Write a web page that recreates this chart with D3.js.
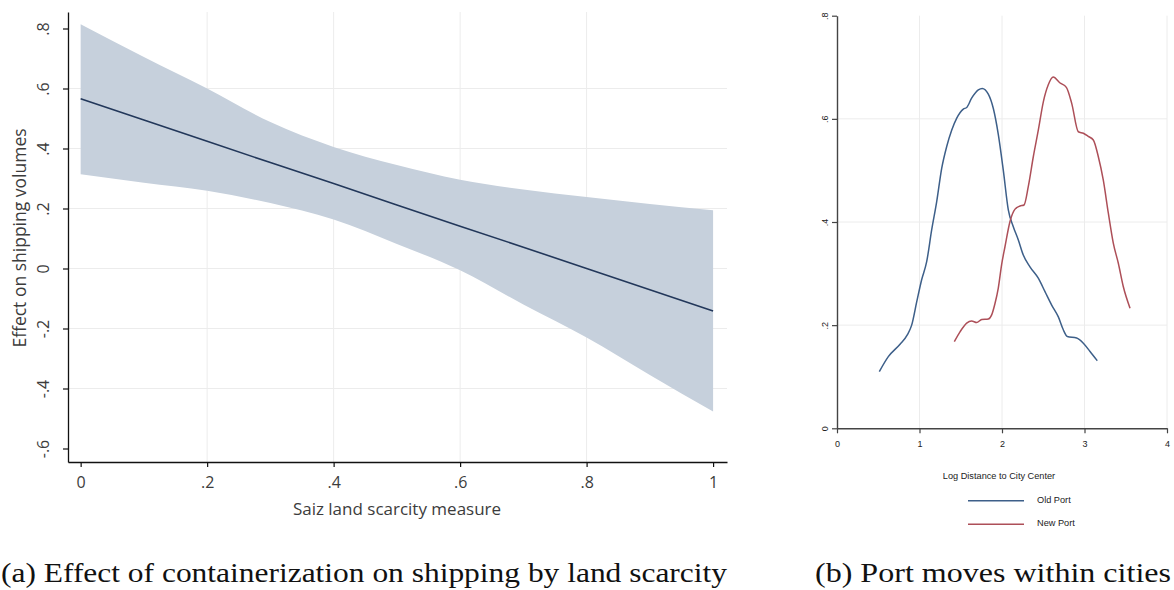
<!DOCTYPE html>
<html>
<head>
<meta charset="utf-8">
<script src="https://cdn.jsdelivr.net/npm/d3@7"></script>
<style>
  body { margin: 0; background: #fff; }
  svg { display: block; }
</style>
</head>
<body>
<div id="chart"></div>
<script>
// panel (a): linear fit with 95% band
var scarcity = [0, .1, .2, .3, .4, .5, .6, .7, .8, .9, 1];
var fitEffect = [.566, .495, .424, .353, .283, .212, .141, .071, .000, -.071, -.142];
var ciUpper = [.814, .705, .600, .488, .405, .345, .296, .263, .238, .215, .194];
var ciLower = [.314, .286, .259, .218, .163, .082, -.006, -.120, -.230, -.355, -.477];
var leftYTicks = [-.6, -.4, -.2, 0, .2, .4, .6, .8];
var leftYLabels = ['-.6', '-.4', '-.2', '0', '.2', '.4', '.6', '.8'];
var leftXTicks = [0, .2, .4, .6, .8, 1];
var leftXLabels = ['0', '.2', '.4', '.6', '.8', '1'];

// panel (b): kernel densities of log distance to city center
var oldPortX = [.513, .622, .764, .852, .905, .966, 1.026, 1.087, 1.148, 1.208, 1.269, 1.329, 1.390, 1.450,
  1.531, 1.572, 1.632, 1.713, 1.760, 1.834, 1.895, 1.955, 2.016, 2.077, 2.137, 2.198, 2.258, 2.339,
  2.440, 2.521, 2.602, 2.683, 2.743, 2.792, 2.905, 2.986, 3.067, 3.155];
var oldPortY = [.110, .139, .163, .181, .200, .245, .288, .323, .385, .439, .504, .546, .578, .601,
  .619, .622, .640, .656, .659, .648, .620, .570, .500, .423, .391, .365, .336, .313,
  .291, .265, .239, .216, .191, .178, .175, .165, .149, .131];
var newPortX = [1.422, 1.491, 1.572, 1.632, 1.693, 1.754, 1.834, 1.875, 1.915, 1.955, 1.996, 2.036, 2.097,
  2.158, 2.218, 2.267, 2.319, 2.380, 2.440, 2.501, 2.561, 2.621, 2.700, 2.780, 2.845, 2.925, 2.986,
  3.046, 3.107, 3.167, 3.228, 3.289, 3.349, 3.410, 3.470, 3.552];
var newPortY = [.168, .187, .204, .208, .205, .211, .212, .220, .242, .272, .318, .352, .401,
  .425, .431, .433, .469, .527, .578, .633, .666, .681, .670, .661, .630, .575, .572,
  .566, .559, .527, .481, .417, .359, .320, .275, .233];
var rightTicks = [0, .2, .4, .6, .8];
var rightTickLabels = ['0', '.2', '.4', '.6', '.8'];
var rightXTicks = [0, 1, 2, 3, 4];
var legendNames = ['Old Port', 'New Port'];
var portColors = ['#3d5f89', '#ad4f58'];

var svg = d3.select('#chart').append('svg')
  .attr('width', 1174).attr('height', 590);
svg.append('rect').attr('width', 1174).attr('height', 590).attr('fill', '#fff');

// ---------- panel (a) ----------
var ax = d3.scaleLinear().domain([-0.02, 1.022]).range([68, 727]);
var ay = d3.scaleLinear().domain([-0.645, 0.855]).range([462, 12]);
var sansA = "'Open Sans', 'DejaVu Sans', sans-serif";

var pa = svg.append('g');

// grid
pa.selectAll('line.hgrid')
  .data(leftYTicks.filter(function (d) { return d > -.6 && d < .8; }))
  .enter().append('line')
    .attr('x1', ax.range()[0]).attr('x2', ax.range()[1])
    .attr('y1', function (d) { return ay(d); }).attr('y2', function (d) { return ay(d); })
    .attr('stroke', '#ececec').attr('stroke-width', 1);
pa.selectAll('line.vgrid')
  .data(leftXTicks.filter(function (d) { return d > 0 && d < 1; }))
  .enter().append('line')
    .attr('x1', function (d) { return ax(d); }).attr('x2', function (d) { return ax(d); })
    .attr('y1', ay.range()[1]).attr('y2', ay.range()[0])
    .attr('stroke', '#ececec').attr('stroke-width', 1);

// confidence band and fit line
var band = d3.area()
  .x(function (d, i) { return ax(scarcity[i]); })
  .y0(function (d, i) { return ay(ciLower[i]); })
  .y1(function (d, i) { return ay(ciUpper[i]); })
  .curve(d3.curveMonotoneX);
pa.append('path').datum(scarcity).attr('d', band).attr('fill', '#c6d0dc');

var fitLine = d3.line()
  .x(function (d, i) { return ax(scarcity[i]); })
  .y(function (d) { return ay(d); });
pa.append('path').datum(fitEffect).attr('d', fitLine)
  .attr('fill', 'none').attr('stroke', '#22375a').attr('stroke-width', 1.6);

// axes
var ayAxis = pa.append('g').attr('transform', 'translate(68,0)')
  .call(d3.axisLeft(ay).tickValues(leftYTicks).tickSize(5).tickSizeOuter(0)
    .tickFormat(function (d, i) { return leftYLabels[i]; }));
var axAxis = pa.append('g').attr('transform', 'translate(0,462)')
  .call(d3.axisBottom(ax).tickValues(leftXTicks).tickSize(5).tickSizeOuter(0)
    .tickFormat(function (d, i) { return leftXLabels[i]; }));

[ayAxis, axAxis].forEach(function (g) {
  g.select('.domain').attr('stroke', '#111').attr('stroke-width', 1.3);
  g.selectAll('.tick line').attr('stroke', '#111').attr('stroke-width', 1.2);
  g.selectAll('.tick text').attr('font-family', sansA).attr('font-size', 16).attr('fill', '#3c3c3c');
});
ayAxis.selectAll('.tick text')
  .attr('x', null).attr('dy', null)
  .attr('text-anchor', 'middle').attr('dominant-baseline', 'central')
  .attr('transform', 'translate(-25,0) rotate(-90)');
axAxis.selectAll('.tick text').attr('y', 15).attr('dy', '0.71em');

pa.append('text')
  .attr('transform', 'translate(19,238) rotate(-90)')
  .attr('text-anchor', 'middle').attr('dominant-baseline', 'central')
  .attr('font-family', sansA).attr('font-size', 17.5).attr('fill', '#3c3c3c')
  .text('Effect on shipping volumes');
pa.append('text')
  .attr('x', 397).attr('y', 508)
  .attr('text-anchor', 'middle').attr('dominant-baseline', 'central')
  .attr('font-family', sansA).attr('font-size', 17).attr('fill', '#3c3c3c')
  .text('Saiz land scarcity measure');

// ---------- panel (b) ----------
var bx = d3.scaleLinear().domain([0, 4]).range([837, 1167]);
var by = d3.scaleLinear().domain([0, .8]).range([428.3, 15.7]);
var sansB = "'Liberation Sans', Arial, sans-serif";

var pb = svg.append('g');

pb.selectAll('line.hgrid')
  .data(rightTicks.filter(function (d) { return d > 0 && d < .8; }))
  .enter().append('line')
    .attr('x1', bx.range()[0]).attr('x2', bx.range()[1])
    .attr('y1', function (d) { return by(d); }).attr('y2', function (d) { return by(d); })
    .attr('stroke', '#ececec').attr('stroke-width', 1);
pb.selectAll('line.vgrid')
  .data(rightXTicks.filter(function (d) { return d > 0; }))
  .enter().append('line')
    .attr('x1', function (d) { return bx(d); }).attr('x2', function (d) { return bx(d); })
    .attr('y1', by.range()[1]).attr('y2', by.range()[0])
    .attr('stroke', '#ececec').attr('stroke-width', 1);

var densityLine = function (xs) {
  return d3.line()
    .x(function (d, i) { return bx(xs[i]); })
    .y(function (d) { return by(d); })
    .curve(d3.curveMonotoneX);
};
pb.append('path').datum(oldPortY).attr('d', densityLine(oldPortX))
  .attr('fill', 'none').attr('stroke', portColors[0]).attr('stroke-width', 1.5);
pb.append('path').datum(newPortY).attr('d', densityLine(newPortX))
  .attr('fill', 'none').attr('stroke', portColors[1]).attr('stroke-width', 1.5);

var byAxis = pb.append('g').attr('transform', 'translate(837,0)')
  .call(d3.axisLeft(by).tickValues(rightTicks).tickSize(5).tickSizeOuter(0)
    .tickFormat(function (d, i) { return rightTickLabels[i]; }));
var bxAxis = pb.append('g').attr('transform', 'translate(0,428.3)')
  .call(d3.axisBottom(bx).tickValues(rightXTicks).tickSize(5).tickSizeOuter(0)
    .tickFormat(d3.format('d')));

[byAxis, bxAxis].forEach(function (g) {
  g.select('.domain').attr('stroke', '#444').attr('stroke-width', 1.4);
  g.selectAll('.tick line').attr('stroke', '#444').attr('stroke-width', 1.2);
  g.selectAll('.tick text').attr('font-family', sansB).attr('font-size', 9).attr('fill', '#222');
});
byAxis.selectAll('.tick text')
  .attr('x', null).attr('dy', null)
  .attr('text-anchor', 'middle').attr('dominant-baseline', 'central')
  .attr('transform', 'translate(-12,0) rotate(-90)');
bxAxis.selectAll('.tick text').attr('y', 12).attr('dy', '0.71em');

pb.append('text')
  .attr('x', 999).attr('y', 476)
  .attr('text-anchor', 'middle').attr('dominant-baseline', 'central')
  .attr('font-family', sansB).attr('font-size', 9.2).attr('fill', '#222')
  .text('Log Distance to City Center');

var legend = pb.selectAll('g.legend')
  .data(legendNames)
  .enter().append('g')
    .attr('transform', function (d, i) { return 'translate(0,' + (500.7 + i * 23.6) + ')'; });
legend.append('line')
  .attr('x1', 968).attr('x2', 1024).attr('y1', 0).attr('y2', 0)
  .attr('stroke', function (d, i) { return portColors[i]; }).attr('stroke-width', 1.5);
legend.append('text')
  .attr('x', 1037).attr('y', -1)
  .attr('dominant-baseline', 'central')
  .attr('font-family', sansB).attr('font-size', 9.2).attr('fill', '#222')
  .text(function (d) { return d; });

// ---------- captions (LaTeX subcaptions, centred under each panel) ----------
var serif = "'Liberation Serif', 'DejaVu Serif', serif";
svg.append('text')
  .attr('x', 1).attr('y', 582)
  .attr('font-family', serif).attr('font-size', 27).attr('fill', '#111')
  .attr('textLength', 726).attr('lengthAdjust', 'spacingAndGlyphs')
  .text('(a) Effect of containerization on shipping by land scarcity');
svg.append('text')
  .attr('x', 815).attr('y', 582)
  .attr('font-family', serif).attr('font-size', 27).attr('fill', '#111')
  .attr('textLength', 356).attr('lengthAdjust', 'spacingAndGlyphs')
  .text('(b) Port moves within cities');
</script>
</body>
</html>
